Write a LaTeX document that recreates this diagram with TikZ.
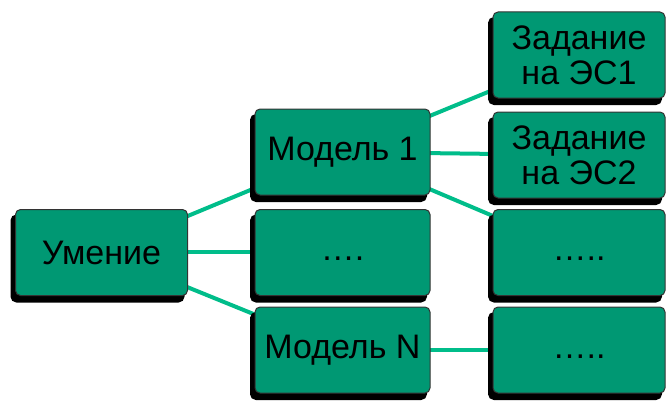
\documentclass[tikz,border=0pt]{standalone}
\usepackage{fontspec}
\setmainfont{Liberation Sans}
\definecolor{boxgreen}{HTML}{009873}
\definecolor{linegreen}{HTML}{00BD8A}
\begin{document}
\begin{tikzpicture}[x=1pt,y=-1pt,
  box/.style={draw=black!80,line width=1pt,fill=boxgreen,rounded corners=5pt,
    minimum width=175pt,minimum height=86pt,inner sep=0pt,align=center,
    font=\fontsize{34}{35}\selectfont,
    preaction={fill=black,draw=black,line width=2pt,transform canvas={shift={(-4pt,-6pt)}}}},
  conn/.style={draw=linegreen,line width=4pt}]
\useasboundingbox (0,0) rectangle (669,404);
\draw[conn] (101,252) -- (342,152);
\draw[conn] (101,252) -- (342,252);
\draw[conn] (101,252) -- (342,350);
\draw[conn] (342,152) -- (578,55);
\draw[conn] (342,152) -- (578,155);
\draw[conn] (342,152) -- (578,252);
\draw[conn] (342,350) -- (578,350);
\node[box,minimum width=172pt] (u) at (101.5,252.5) {Умение};
\node[box] (m1) at (342.5,152) {Модель 1};
\node[box] (m2) at (342.5,252.5) {\vphantom{Мд}….};
\node[box] (mn) at (342.5,350) {Модель N};
\node[box,minimum width=172pt] (z1) at (579,55) {Задание\\на ЭС1};
\node[box,minimum width=172pt] (z2) at (579,155) {Задание\\на ЭС2};
\node[box,minimum width=172pt] (z3) at (579,252.5) {\vphantom{Мд}…..};
\node[box,minimum width=172pt] (z4) at (579,350) {\vphantom{Мд}…..};
\end{tikzpicture}
\end{document}
